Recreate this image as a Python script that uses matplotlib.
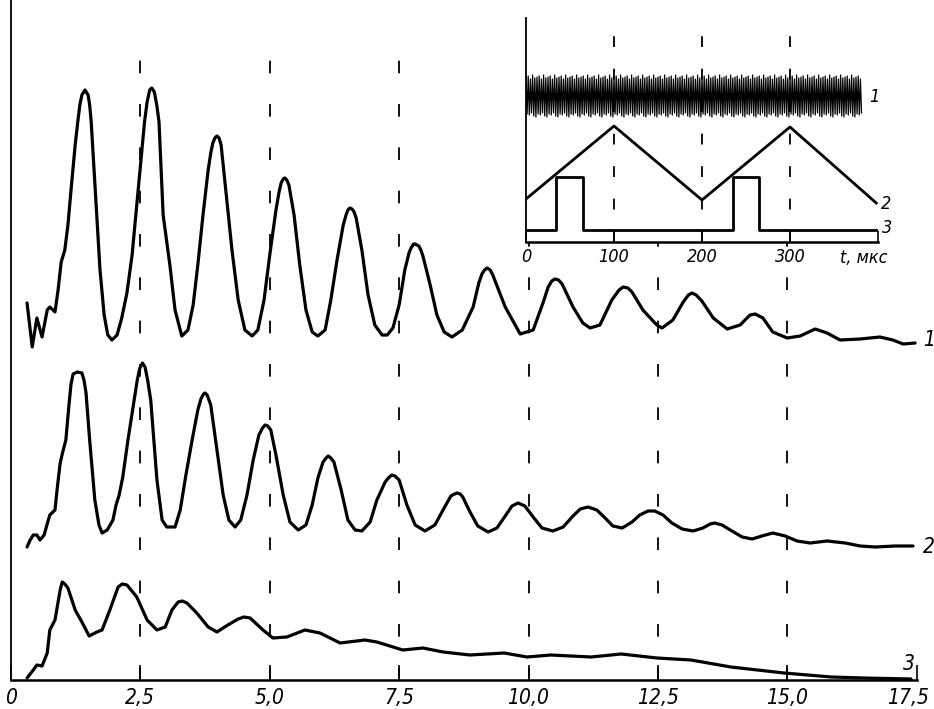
import numpy as np
import matplotlib
matplotlib.use("Agg")
import matplotlib.pyplot as plt
from matplotlib import font_manager
from matplotlib.transforms import ScaledTranslation

# ---------------- data ----------------
x_ticks = [0, 2.5, 5.0, 7.5, 10.0, 12.5, 15.0, 17.5]
x_tick_labels = ["0", "2,5", "5,0", "7,5", "10,0", "12,5", "15,0", "17,5"]
grid_x = [2.5, 5.0, 7.5, 10.0, 12.5, 15.0]

curve1_x = [0.31, 0.41, 0.50, 0.60, 0.70, 0.75, 0.85, 0.91, 0.97, 1.04, 1.10, 1.16, 1.24, 1.29,
            1.33, 1.37, 1.43, 1.49, 1.52, 1.55, 1.60, 1.66, 1.72, 1.80, 1.87, 1.95, 2.05, 2.14,
            2.24, 2.34, 2.43, 2.53, 2.58, 2.63, 2.68, 2.72, 2.77, 2.82, 2.86, 2.94, 3.07, 3.17,
            3.30, 3.42, 3.52, 3.61, 3.71, 3.81, 3.86, 3.90, 3.94, 3.98, 4.02, 4.06, 4.15, 4.27,
            4.39, 4.52, 4.66, 4.77, 4.89, 5.00, 5.12, 5.18, 5.22, 5.26, 5.29, 5.33, 5.37, 5.47,
            5.58, 5.70, 5.82, 5.93, 6.07, 6.18, 6.30, 6.42, 6.48, 6.51, 6.55, 6.59, 6.63, 6.67,
            6.78, 6.90, 7.03, 7.17, 7.27, 7.38, 7.50, 7.61, 7.69, 7.73, 7.78, 7.81, 7.88, 7.92,
            7.96, 8.10, 8.23, 8.37, 8.52, 8.72, 8.93, 9.04, 9.10, 9.15, 9.20, 9.26, 9.31, 9.55,
            9.84, 10.09, 10.28, 10.38, 10.45, 10.51, 10.58, 10.65, 10.86, 11.05, 11.19, 11.38,
            11.61, 11.75, 11.83, 11.92, 12.00, 12.21, 12.48, 12.58, 12.79, 12.99, 13.09, 13.16,
            13.24, 13.35, 13.57, 13.84, 14.09, 14.28, 14.38, 14.53, 14.72, 15.00, 15.25, 15.54,
            15.77, 16.02, 16.41, 16.79, 17.04, 17.24, 17.47]
curve1_y = [377, 333, 362, 343, 370, 373, 368, 390, 418, 430, 455, 490, 535, 558,
            575, 585, 590, 585, 575, 558, 515, 465, 410, 365, 345, 340, 345, 362,
            387, 425, 475, 530, 558, 578, 590, 592, 588, 574, 558, 465, 415, 370,
            344, 350, 375, 415, 465, 510, 527, 537, 542, 544, 542, 535, 490, 430,
            380, 350, 344, 350, 380, 425, 470, 488, 497, 501, 502, 500, 495, 465,
            415, 370, 348, 344, 350, 380, 420, 455, 466, 470, 472, 471, 468, 462,
            430, 385, 355, 345, 345, 352, 375, 410, 427, 432, 436, 436, 434, 430,
            424, 395, 365, 348, 343, 350, 373, 397, 406, 410, 412, 410, 405, 373,
            346, 350, 377, 393, 399, 401, 400, 396, 373, 357, 352, 355,
            380, 390, 393, 392, 388, 370, 355, 352, 360, 378, 385, 387,
            385, 379, 362, 351, 355, 365, 366, 362, 348, 342, 344, 351,
            347, 340, 341, 343, 340, 336, 337]

curve2_x = [0.31, 0.37, 0.43, 0.50, 0.56, 0.64, 0.71, 0.75, 0.85, 0.89, 0.95, 1.00, 1.06, 1.12,
            1.16, 1.20, 1.28, 1.37, 1.41, 1.45, 1.52, 1.62, 1.70, 1.76, 1.86, 1.97, 2.03, 2.09,
            2.16, 2.26, 2.38, 2.44, 2.49, 2.54, 2.59, 2.64, 2.70, 2.82, 2.92, 3.01, 3.17, 3.27,
            3.38, 3.50, 3.61, 3.67, 3.72, 3.75, 3.79, 3.86, 3.98, 4.10, 4.21, 4.33, 4.44, 4.56,
            4.68, 4.79, 4.86, 4.91, 4.96, 5.02, 5.12, 5.26, 5.39, 5.55, 5.70, 5.82, 5.93, 6.03,
            6.09, 6.13, 6.18, 6.24, 6.38, 6.51, 6.65, 6.78, 6.94, 7.07, 7.23, 7.31, 7.36, 7.42,
            7.50, 7.65, 7.81, 8.00, 8.19, 8.37, 8.50, 8.57, 8.62, 8.68, 8.73, 8.87, 9.02, 9.22,
            9.39, 9.55, 9.68, 9.80, 9.93, 10.09, 10.26, 10.47, 10.67, 10.86, 11.00, 11.15, 11.32,
            11.48, 11.63, 11.81, 12.00, 12.15, 12.31, 12.44, 12.60, 12.77, 12.97, 13.18, 13.37,
            13.51, 13.60, 13.74, 13.93, 14.13, 14.32, 14.51, 14.72, 14.96, 15.19, 15.44, 15.77,
            16.12, 16.41, 16.70, 17.08, 17.43]
curve2_y = [133, 140, 145, 145, 140, 145, 158, 165, 170, 190, 217, 228, 240, 275,
            296, 306, 308, 307, 300, 287, 240, 180, 155, 147, 150, 160, 175, 185,
            203, 240, 280, 300, 312, 317, 313, 300, 280, 200, 160, 153, 153, 170,
            205, 240, 270, 281, 286, 287, 285, 275, 230, 185, 160, 153, 160, 185,
            220, 245, 252, 255, 254, 250, 225, 185, 158, 150, 155, 175, 202, 218,
            222, 224, 222, 218, 190, 160, 150, 149, 158, 180, 198, 203, 205, 204,
            200, 175, 155, 149, 155, 172, 184, 186, 187, 186, 183, 168, 154, 148,
            152, 164, 174, 177, 174, 163, 152, 149, 153, 164, 171, 173, 170,
            162, 154, 152, 158, 165, 169, 169, 165, 157, 151, 149, 152,
            156, 157, 155, 149, 143, 141, 144, 147, 144, 139, 137, 139,
            137, 134, 133, 134, 134]

curve3_x = [0.31, 0.43, 0.50, 0.60, 0.70, 0.75, 0.85, 0.95, 0.99, 1.04, 1.10, 1.24, 1.37, 1.51,
            1.66, 1.76, 1.91, 2.07, 2.15, 2.24, 2.32, 2.43, 2.63, 2.82, 2.98, 3.11, 3.23, 3.31,
            3.40, 3.59, 3.81, 3.98, 4.19, 4.39, 4.50, 4.62, 4.87, 5.06, 5.33, 5.68, 5.97, 6.36,
            6.84, 7.07, 7.57, 7.96, 8.35, 8.87, 9.53, 9.97, 10.43, 11.21, 11.79, 12.48, 13.14,
            13.91, 14.94, 15.85, 16.48, 17.39]
curve3_y = [2, 10, 15, 14, 27, 50, 60, 90, 98, 96, 92, 70, 58, 44,
            48, 50, 70, 93, 96, 95, 90, 83, 60, 50, 53, 70, 78, 79,
            77, 67, 53, 48, 55, 61, 63, 62, 50, 42, 43, 50, 47, 37,
            40, 38, 30, 32, 28, 25, 27, 23, 25, 23, 26, 22, 20,
            13, 7, 3, 2, 1]

curve_labels = ["1", "2", "3"]

# inset (time in microseconds)
inset_ticks = [0, 100, 200, 300, 400]
inset_tick_labels = ["0", "100", "200", "300", ""]
inset_grid_t = [100, 200, 300]
inset_unit_label = "t, мкс"

sig1_end = 382
sig1_half_period = 1.25
sig1_tops = [165, 160, 166, 158, 163, 161, 167, 159, 164, 162]
sig1_bottoms = [125, 128, 124, 127, 125, 129, 124, 126, 128, 125]

sig2_t = [0, 100, 200, 300, 398]
sig2_y = [43, 116, 42, 115, 39]

sig3_t = [0, 34, 34, 65, 65, 235, 235, 265, 265, 400]
sig3_y = [12, 12, 65, 65, 12, 12, 65, 65, 12, 12]

# ---------------- style ----------------
entries = font_manager.fontManager.ttflist
cond = [f for f in entries if f.name == "DejaVu Sans" and f.stretch == "condensed"]
if "Liberation Sans Narrow" in {f.name for f in entries}:
    fam, stretch, tfs, ifs = ["Liberation Sans Narrow", "DejaVu Sans"], "normal", 17, 15
elif cond:
    fam, stretch, tfs, ifs = ["DejaVu Sans"], "condensed", 15, 13
else:
    fam, stretch, tfs, ifs = ["Liberation Sans", "DejaVu Sans"], "normal", 14, 13
plt.rcParams["font.family"] = fam
plt.rcParams["font.stretch"] = stretch

W, H = 934, 709
fig = plt.figure(figsize=(W / 100, H / 100), dpi=100)

# ---------------- main axes ----------------
ax = fig.add_axes([11 / W, 1 - 680 / H, 17.5 * 51.75 / W, 680 / H])
ax.set_xlim(0, 17.5)
ax.set_ylim(0, 680)
for s in ["top", "right"]:
    ax.spines[s].set_visible(False)
ax.spines["left"].set_linewidth(1.3)
ax.spines["bottom"].set_linewidth(1.8)
ax.set_yticks([])
ax.set_xticks(x_ticks)
ax.set_xticklabels(x_tick_labels, fontsize=tfs, fontstyle="italic")
ax.tick_params(axis="x", direction="in", length=11, width=1.2, pad=6)
# nudge the last tick label inwards so it stays inside the picture
last = ax.get_xticklabels()[-1]
last.set_transform(last.get_transform() + ScaledTranslation(-6 / 72, 0, fig.dpi_scale_trans))

for gx in grid_x:
    ax.plot([gx, gx], [0, 640], color="black", lw=1.3, dashes=(7, 17), zorder=1)

lw_curve = 2.3
for cx, cy in [(curve1_x, curve1_y), (curve2_x, curve2_y), (curve3_x, curve3_y)]:
    ax.plot(cx, cy, color="black", lw=lw_curve, solid_joinstyle="round",
            solid_capstyle="round", zorder=3)

ax.text(17.62, 340, curve_labels[0], fontsize=tfs, fontstyle="italic", va="center", ha="left", clip_on=False)
ax.text(17.62, 133, curve_labels[1], fontsize=tfs, fontstyle="italic", va="center", ha="left", clip_on=False)
ax.text(17.35, 16, curve_labels[2], fontsize=tfs, fontstyle="italic", va="center", ha="center", clip_on=False)

# ---------------- inset ----------------
ins = fig.add_axes([526 / W, 1 - 242 / H, 352 / W, 224 / H])
ins.set_facecolor("white")
ins.set_xlim(0, 400)
ins.set_ylim(0, 224)
for s in ["top", "right"]:
    ins.spines[s].set_visible(False)
ins.spines["left"].set_linewidth(1.3)
ins.spines["bottom"].set_linewidth(1.8)
ins.set_yticks([])
ins.set_xticks(inset_ticks)
ins.set_xticklabels(inset_tick_labels, fontsize=ifs, fontstyle="italic")
ins.tick_params(axis="x", direction="in", length=8, width=1.2, pad=4)

for gt in inset_grid_t:
    ins.plot([gt, gt], [0, 222], color="black", lw=1.3, dashes=(6, 12), zorder=1)

n_half = int(sig1_end / sig1_half_period) + 1
sig1_t = np.arange(n_half) * sig1_half_period
tops = np.resize(sig1_tops, n_half)
bots = np.resize(sig1_bottoms, n_half)
sig1_y = np.where(np.arange(n_half) % 2 == 0, tops, bots)
ins.plot(sig1_t, sig1_y, color="black", lw=0.9, zorder=3)
ins.plot(sig2_t, sig2_y, color="black", lw=2.0, zorder=3)
ins.plot(sig3_t, sig3_y, color="black", lw=2.0, zorder=3)

ins.text(sig1_end + 8, 145, "1", fontsize=ifs, fontstyle="italic", va="center", ha="left", clip_on=False)
ins.text(403, 38, "2", fontsize=ifs, fontstyle="italic", va="center", ha="left", clip_on=False)
ins.text(405, 14, "3", fontsize=ifs, fontstyle="italic", va="center", ha="left", clip_on=False)
ins.text(384, -16, inset_unit_label, fontsize=ifs, fontstyle="italic", va="center", ha="center", clip_on=False)

fig.savefig("out.png", dpi=100)
